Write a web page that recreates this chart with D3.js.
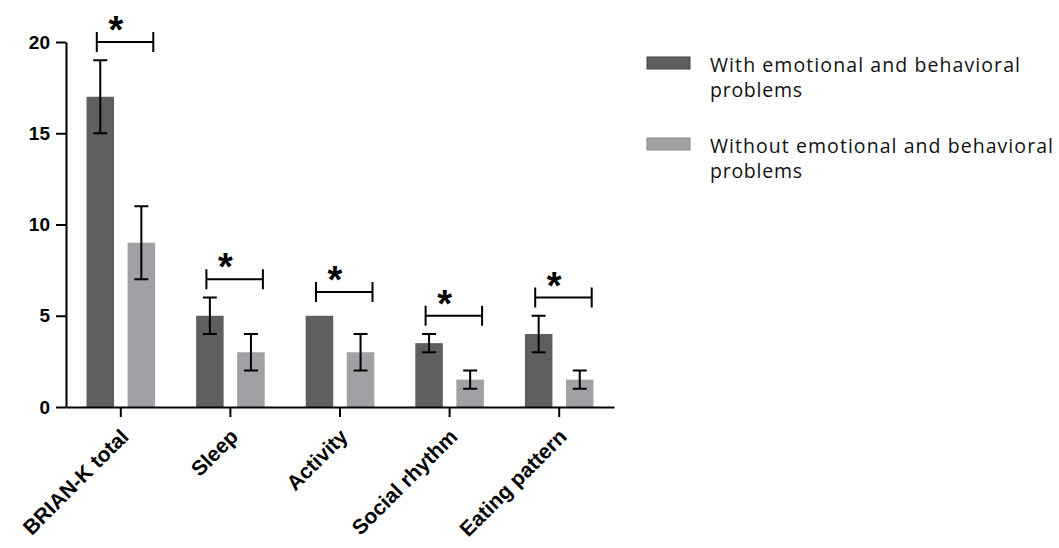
<!DOCTYPE html>
<html>
<head>
<meta charset="utf-8">
<script src="https://cdn.jsdelivr.net/npm/d3@7"></script>
<style>
  body { margin: 0; background: #fff; }
  svg { display: block; }
</style>
</head>
<body>
<div id="my_dataviz"></div>
<script>
// categories on the x axis
var categories = ["BRIAN-K total", "Sleep", "Activity", "Social rhythm", "Eating pattern"];

// with emotional and behavioral problems
var withValues = [17, 5, 5, 3.5, 4];
var withErr = [2, 1, 0, 0.5, 1];

// without emotional and behavioral problems
var withoutValues = [9, 3, 3, 1.5, 1.5];
var withoutErr = [2, 1, 1, 0.5, 0.5];

// height of the significance brackets
var sigLevels = [20, 7, 6.3, 5, 6];

var yTicks = [0, 5, 10, 15, 20];
var seriesNames = ["With emotional and behavioral problems", "Without emotional and behavioral problems"];
var legendLines = [["With emotional and behavioral", "problems"], ["Without emotional and behavioral", "problems"]];
var colors = ["#5f5f5f", "#a1a1a5"];

var W = 1059, H = 548;
var svg = d3.select("#my_dataviz")
  .append("svg")
    .attr("width", W)
    .attr("height", H);

// scales
var x = d3.scaleBand()
  .domain(categories)
  .range([66, 614]);

var x1 = d3.scaleBand()
  .domain([0, 1])
  .range([-34.3, 34.3])
  .paddingInner(0.33);

var y = d3.scaleLinear()
  .domain([0, 20])
  .range([407, 42]);

// build rows from the arrays
var rows = [];
categories.forEach(function(c, i) {
  rows.push({cat: c, s: 0, value: withValues[i], err: withErr[i]});
  rows.push({cat: c, s: 1, value: withoutValues[i], err: withoutErr[i]});
});

function cx(d) { return x(d.cat) + x.bandwidth() / 2; }

// bars
svg.append("g").selectAll("rect")
  .data(rows)
  .enter()
  .append("rect")
    .attr("x", function(d) { return cx(d) + x1(d.s); })
    .attr("y", function(d) { return y(d.value); })
    .attr("width", x1.bandwidth())
    .attr("height", function(d) { return y(0) - y(d.value); })
    .attr("fill", function(d) { return colors[d.s]; });

// error bars
var eb = svg.append("g")
  .attr("stroke", "#000")
  .attr("stroke-width", 2)
  .selectAll("g")
  .data(rows.filter(function(d) { return d.err > 0; }))
  .enter()
  .append("g")
    .attr("transform", function(d) {
      return "translate(" + (cx(d) + x1(d.s) + x1.bandwidth() / 2) + ",0)";
    });
eb.append("line")
  .attr("y1", function(d) { return y(d.value - d.err); })
  .attr("y2", function(d) { return y(d.value + d.err); });
eb.append("line")
  .attr("x1", -7).attr("x2", 7)
  .attr("y1", function(d) { return y(d.value + d.err); })
  .attr("y2", function(d) { return y(d.value + d.err); });
eb.append("line")
  .attr("x1", -7).attr("x2", 7)
  .attr("y1", function(d) { return y(d.value - d.err); })
  .attr("y2", function(d) { return y(d.value - d.err); });

// significance brackets
var sig = svg.append("g")
  .selectAll("g")
  .data(categories)
  .enter()
  .append("g")
    .attr("transform", function(d, i) {
      return "translate(" + (x(d) + x.bandwidth() / 2) + "," + y(sigLevels[i]) + ")";
    });
sig.append("path")
  .attr("d", "M-24,-10V10M-24,0H32.5M32.5,-10V10")
  .attr("fill", "none")
  .attr("stroke", "#000")
  .attr("stroke-width", 2);
sig.append("text")
  .attr("x", -5)
  .attr("y", 1)
  .attr("text-anchor", "middle")
  .style("font", "bold 38px 'Liberation Sans', Arial, sans-serif")
  .text("*");

// y axis
var yAxis = svg.append("g")
  .attr("transform", "translate(66,0)")
  .call(d3.axisLeft(y).tickValues(yTicks).tickSize(10).tickPadding(6).tickSizeOuter(0));
yAxis.select(".domain").attr("stroke-width", 2);
yAxis.selectAll(".tick line").attr("stroke-width", 2);
yAxis.selectAll("text")
  .style("font", "bold 19px 'Liberation Sans', Arial, sans-serif")
  .attr("fill", "#000");

// x axis
var xAxis = svg.append("g")
  .attr("transform", "translate(0," + y(0) + ")")
  .call(d3.axisBottom(x).tickSize(10).tickSizeOuter(0));
xAxis.select(".domain").attr("stroke-width", 2);
xAxis.selectAll(".tick line").attr("stroke-width", 2);
xAxis.selectAll("text")
  .style("font", "bold 21px 'Liberation Sans', Arial, sans-serif")
  .attr("fill", "#000")
  .attr("text-anchor", "end")
  .attr("y", 0)
  .attr("dy", 0)
  .attr("transform", "translate(9,31) rotate(-45)");

// legend
var legend = svg.append("g")
  .selectAll("g")
  .data(seriesNames)
  .enter()
  .append("g")
    .attr("transform", function(d, i) { return "translate(647," + (57 + i * 81) + ")"; });
legend.append("rect")
  .attr("width", 43)
  .attr("height", 12)
  .attr("fill", function(d, i) { return colors[i]; })
  .attr("stroke", function(d, i) { return i ? "#888" : "#444"; })
  .attr("stroke-width", 1);
var lineWidths = [[310, 92], [343, 92]];
legend.each(function(d, i) {
  var g = d3.select(this);
  legendLines[i].forEach(function(t, j) {
    g.append("text")
      .attr("x", 63)
      .attr("y", 15 + j * 25)
      .attr("textLength", lineWidths[i][j])
      .attr("lengthAdjust", "spacing")
      .style("font", "19.5px 'Open Sans', 'Liberation Sans', sans-serif")
      .attr("fill", "#111")
      .text(t);
  });
});
</script>
</body>
</html>
